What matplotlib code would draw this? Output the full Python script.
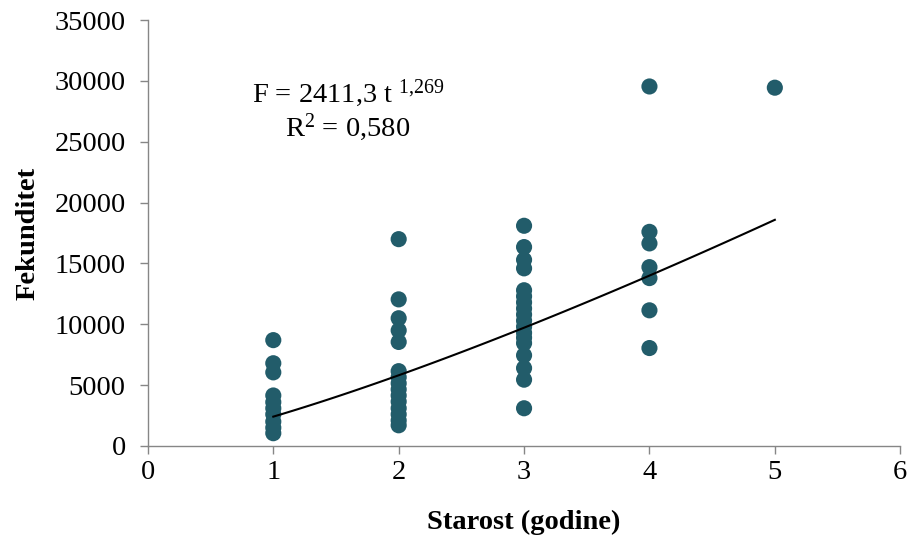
import numpy as np
import matplotlib
matplotlib.use("Agg")
import matplotlib.pyplot as plt

plt.rcParams['font.family'] = ['Liberation Serif', 'DejaVu Serif']
plt.rcParams['mathtext.fontset'] = 'custom'
plt.rcParams['mathtext.rm'] = 'Liberation Serif'
plt.rcParams['mathtext.it'] = 'Liberation Serif:italic'

age1 = [8700, 6800, 6050, 4150, 3600, 3100, 2600, 2000, 1500, 1050]
age2 = [17000, 12050, 10500, 9500, 8550, 6150, 5650, 5150, 4650, 4150, 3650, 3100, 2600, 2100, 1700]
age3 = [18100, 16350, 15300, 14600, 12800, 12300, 11800, 11300, 10800, 10300, 9800, 9300, 8900, 8450,
        7450, 6400, 5450, 3100]
age4 = [29550, 17600, 16650, 14700, 13800, 11150, 8050]
age5 = [29450]

fit_a = 2411.3
fit_b = 1.269

x_ticks = [0, 1, 2, 3, 4, 5, 6]
y_ticks = [0, 5000, 10000, 15000, 20000, 25000, 30000, 35000]

fig = plt.figure(figsize=(9.13, 5.45), dpi=100)
ax = fig.add_axes([0.162, 0.1817, 0.824, 0.7813])

color = '#225C6A'
for age, vals in zip([1, 2, 3, 4, 5], [age1, age2, age3, age4, age5]):
    ax.scatter([age] * len(vals), vals, s=135, color=color, edgecolors='none', zorder=3)

t = np.linspace(1, 5, 100)
ax.plot(t, fit_a * t ** fit_b, color='black', lw=1.5, zorder=4)

ax.set_xlim(0, 6)
ax.set_ylim(0, 35000)
ax.set_xticks(x_ticks)
ax.set_yticks(y_ticks)
ax.tick_params(labelsize=20.5, color='#868686', length=6, width=1)
ax.tick_params(axis='y', pad=10)
ax.tick_params(axis='x', pad=4)
for s in ['top', 'right']:
    ax.spines[s].set_visible(False)
for s in ['left', 'bottom']:
    ax.spines[s].set_color('#868686')
    ax.spines[s].set_linewidth(1)

ax.set_xlabel('Starost (godine)', fontsize=20.5, fontweight='bold', labelpad=18)
ax.set_ylabel('Fekunditet', fontsize=20.5, fontweight='bold', labelpad=10)

fig.text(348 / 913, 1 - 93 / 545, r'F = 2411,3 t $^{1{,}269}$', fontsize=20.5,
         ha='center', va='center')
fig.text(348 / 913, 1 - 127 / 545, r'R$^2$ = 0,580', fontsize=20.5, ha='center', va='center')

fig.savefig('out.png', dpi=100)
